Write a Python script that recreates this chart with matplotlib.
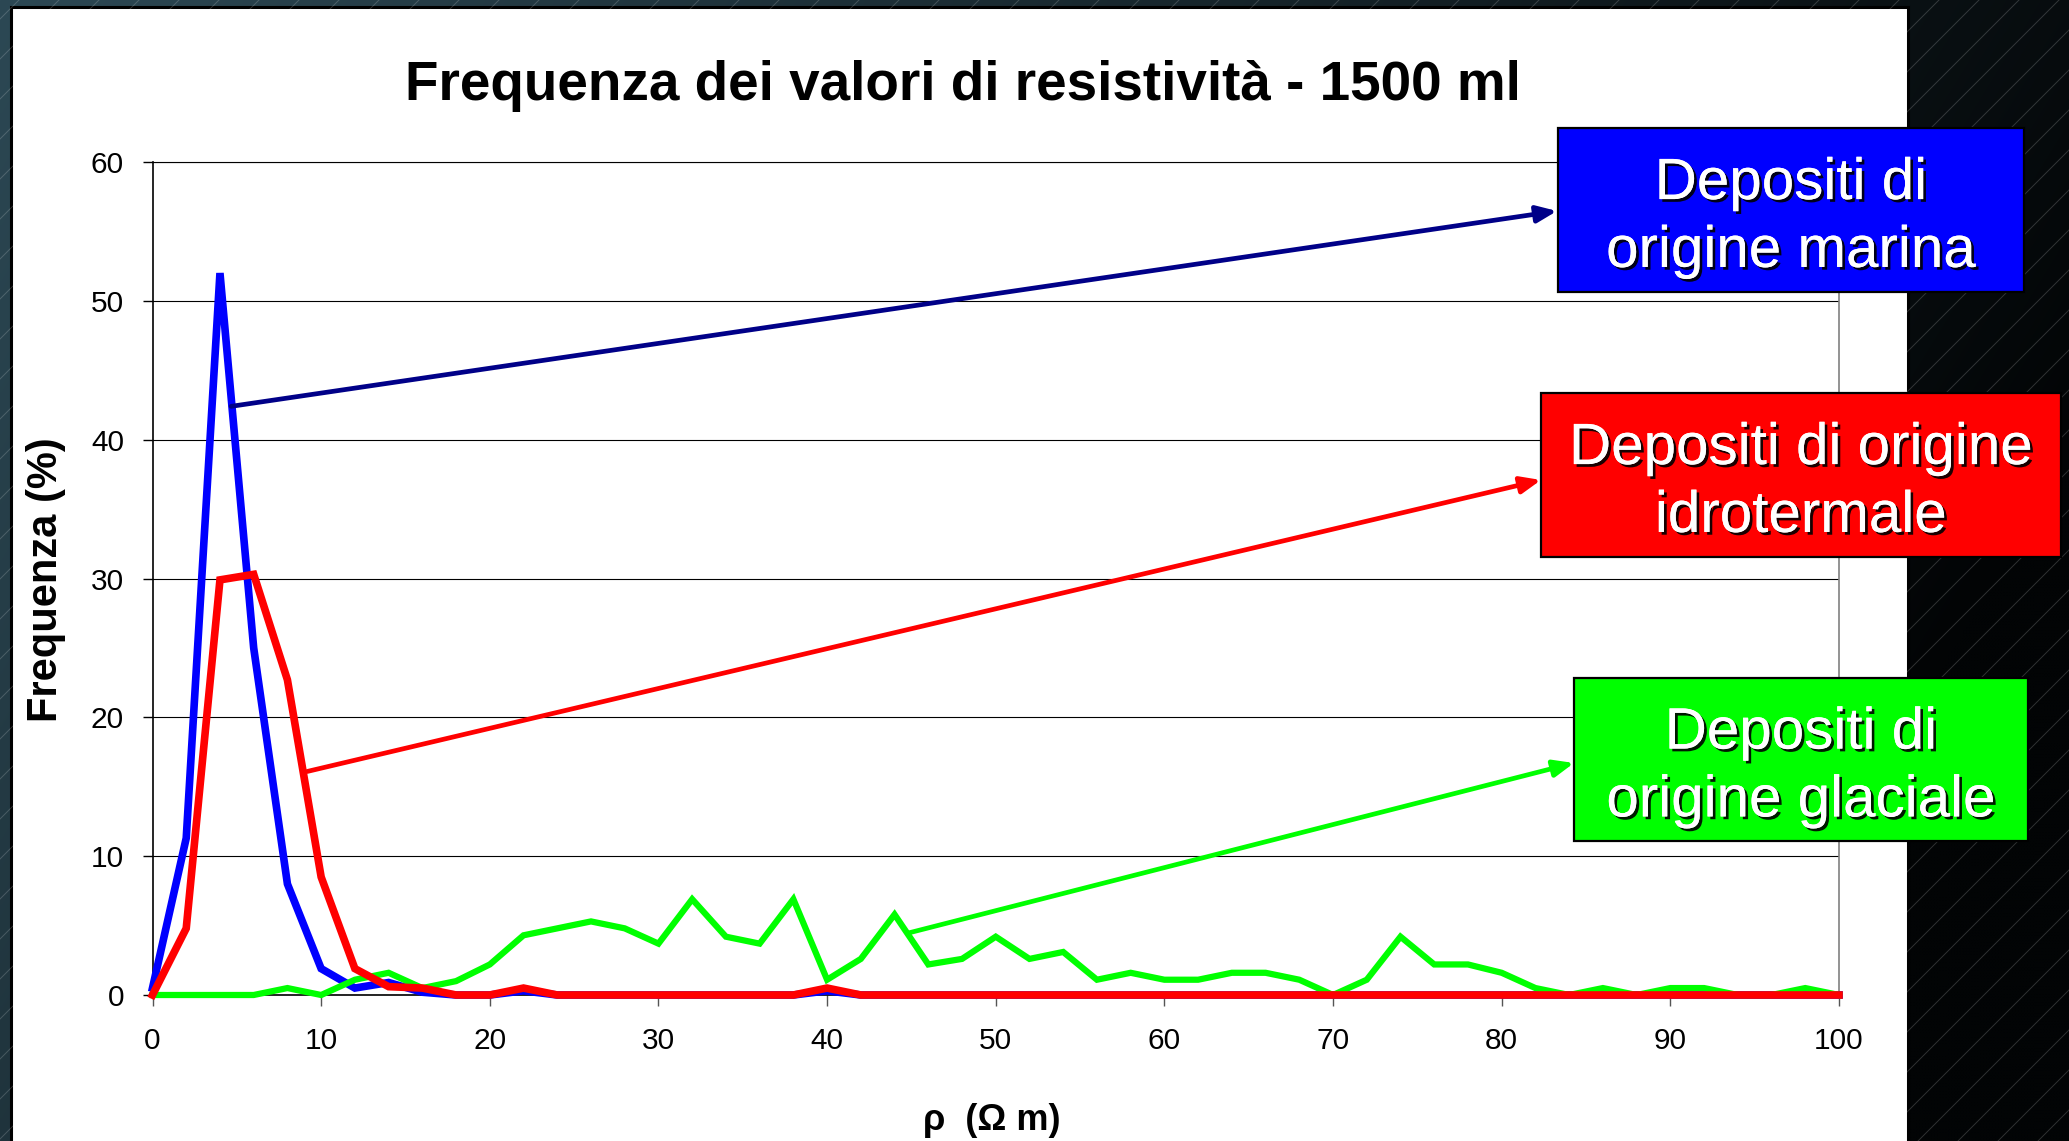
import numpy as np
import matplotlib
matplotlib.use("Agg")
import matplotlib.pyplot as plt
from matplotlib.patches import Rectangle
import matplotlib.patheffects as pe

plt.rcParams['font.family'] = ['Liberation Sans', 'DejaVu Sans']

# Resistivity classes (Ohm m) and frequency (%) of each deposit type
rho = list(range(0, 101, 2))
marina = [0.5, 11.3, 52.0, 25.0, 8.0, 1.9, 0.5, 0.9, 0.2, 0.0,
          0.0, 0.3, 0.0, 0.0, 0.0, 0.0, 0.0, 0.0, 0.0, 0.0,
          0.3, 0.0, 0.0, 0.0, 0.0, 0.0, 0.0, 0.0, 0.0, 0.0,
          0.0, 0.0, 0.0, 0.0, 0.0, 0.0, 0.0, 0.0, 0.0, 0.0,
          0.0, 0.0, 0.0, 0.0, 0.0, 0.0, 0.0, 0.0, 0.0, 0.0, 0.0]
idrotermale = [0.0, 4.8, 29.9, 30.3, 22.7, 8.5, 1.9, 0.6, 0.5, 0.0,
               0.0, 0.5, 0.0, 0.0, 0.0, 0.0, 0.0, 0.0, 0.0, 0.0,
               0.5, 0.0, 0.0, 0.0, 0.0, 0.0, 0.0, 0.0, 0.0, 0.0,
               0.0, 0.0, 0.0, 0.0, 0.0, 0.0, 0.0, 0.0, 0.0, 0.0,
               0.0, 0.0, 0.0, 0.0, 0.0, 0.0, 0.0, 0.0, 0.0, 0.0, 0.0]
glaciale = [0.0, 0.0, 0.0, 0.0, 0.5, 0.0, 1.1, 1.6, 0.5, 1.0,
            2.2, 4.3, 4.8, 5.3, 4.8, 3.7, 6.9, 4.2, 3.7, 6.9,
            1.1, 2.6, 5.8, 2.2, 2.6, 4.2, 2.6, 3.1, 1.1, 1.6,
            1.1, 1.1, 1.6, 1.6, 1.1, 0.0, 1.1, 4.2, 2.2, 2.2,
            1.6, 0.5, 0.0, 0.5, 0.0, 0.5, 0.5, 0.0, 0.0, 0.5, 0.0]

x_ticks = list(range(0, 101, 10))
y_ticks = list(range(0, 61, 10))

title = "Frequenza dei valori di resistività - 1500 ml"
x_label = "ρ  (Ω m)"
y_label = "Frequenza (%)"
box_labels = ["Depositi di\norigine marina",
              "Depositi di origine\nidrotermale",
              "Depositi di\norigine glaciale"]

W, H = 2069, 1141
fig = plt.figure(figsize=(W / 100, H / 100), dpi=100)

# ---- slide background: dark gradient with thin diagonal hatch ----
bg = fig.add_axes([0, 0, 1, 1], zorder=0)
bg.set_xlim(0, W)
bg.set_ylim(H, 0)
bg.axis('off')
yy, xx = np.mgrid[0:H:3, 0:W:3]
t = np.clip(xx / W * 0.88 + yy / H * 0.3, 0, 1)[..., None]
c0 = np.array([44, 72, 84]) / 255.0
c1 = np.array([2, 4, 5]) / 255.0
img = c0 * (1 - t) + c1 * t
bg.imshow(img, extent=(0, W, H, 0), aspect='auto', interpolation='bilinear')
for c in range(-H, W + H, 40):
    bg.plot([c, c - H], [0, H], color='white', alpha=0.18, lw=0.7)
bg.add_patch(Rectangle((11, 7), 1897, 1200, fc='white', ec='black', lw=2.2))

# ---- chart ----
x0, x1 = 152.5, 1839
y0, y60 = 995, 162
ax = fig.add_axes([x0 / W, (H - y0) / H, (x1 - x0) / W, (y0 - y60) / H], zorder=1)
ax.set_facecolor('white')

ax.plot(rho, marina, color='#0000ff', lw=5.5, solid_joinstyle='miter', clip_on=False, zorder=3)
ax.plot(rho, glaciale, color='#00ff00', lw=4.5, solid_joinstyle='miter', clip_on=False, zorder=4)
ax.plot(rho, idrotermale, color='#ff0000', lw=5.5, solid_joinstyle='miter', clip_on=False, zorder=5)

ax.set_xlim(0, 100)
ax.set_ylim(0, 60)
ax.set_xticks(x_ticks)
ax.set_yticks(y_ticks)
ax.yaxis.grid(True, color='black', lw=0.8)
ax.set_axisbelow(True)
for s in ['left', 'bottom', 'top']:
    ax.spines[s].set_color('black')
ax.spines['left'].set_linewidth(1.2)
ax.spines['bottom'].set_linewidth(1.2)
ax.spines['top'].set_linewidth(0.8)
ax.spines['right'].set_color('#808080')
ax.spines['right'].set_linewidth(1.2)
ax.tick_params(axis='y', direction='out', length=7.5, width=1, color='black',
               labelsize=21.5, pad=13)
ax.tick_params(axis='x', direction='out', length=8, width=1, color='#555555',
               labelsize=21.5, pad=15)

ax.set_xlabel(x_label, fontsize=26, fontweight='bold')
ax.xaxis.set_label_coords((992 - x0) / (x1 - x0), (y0 - 1120) / (y0 - y60))
ax.xaxis.label.set_va('center')
ax.set_ylabel(y_label, fontsize=30, fontweight='bold')
ax.yaxis.set_label_coords((46 - x0) / (x1 - x0), (y0 - 580) / (y0 - y60))
ax.yaxis.label.set_va('center')

fig.text(963 / W, 1 - 86 / H, title, ha='center', va='center',
         fontsize=39.5, fontweight='bold')

# ---- labelled boxes with arrows pointing at each curve ----
ov = fig.add_axes([0, 0, 1, 1], zorder=2)
ov.set_xlim(0, W)
ov.set_ylim(H, 0)
ov.axis('off')
ov.patch.set_alpha(0)

boxes = [
    # (left, top, width, height, face, arrow colour, arrow tip, arrow start in data)
    (1558, 128, 466, 164, '#0000ff', '#000088', (1557, 211), (4.66, 42.4)),
    (1541, 393, 520, 164, '#ff0000', '#ff0000', (1541, 480), (9.17, 16.1)),
    (1574, 678, 454, 163, '#00ff00', '#00ff00', (1574, 763), (44.8, 4.46)),
]
for (bx, by, bw, bh, face, acol, tip, start), lab in zip(boxes, box_labels):
    ov.annotate('', xy=tip, xycoords='data', xytext=start, textcoords=ax.transData,
                arrowprops=dict(arrowstyle='-|>,head_length=0.6,head_width=0.25',
                                color=acol, lw=3.4, mutation_scale=20,
                                shrinkA=0, shrinkB=0), zorder=5)
    ov.add_patch(Rectangle((bx, by), bw, bh, fc=face, ec='black', lw=1.6, zorder=6))
    ov.text(bx + bw / 2, by + bh / 2 + 8, lab, ha='center', va='center',
            multialignment='center', fontsize=42, color='white', linespacing=1.33,
            zorder=7,
            path_effects=[pe.withSimplePatchShadow(offset=(2, -2), shadow_rgbFace='black',
                                                   alpha=0.9), pe.Normal()])

fig.savefig('out.png', dpi=100)
